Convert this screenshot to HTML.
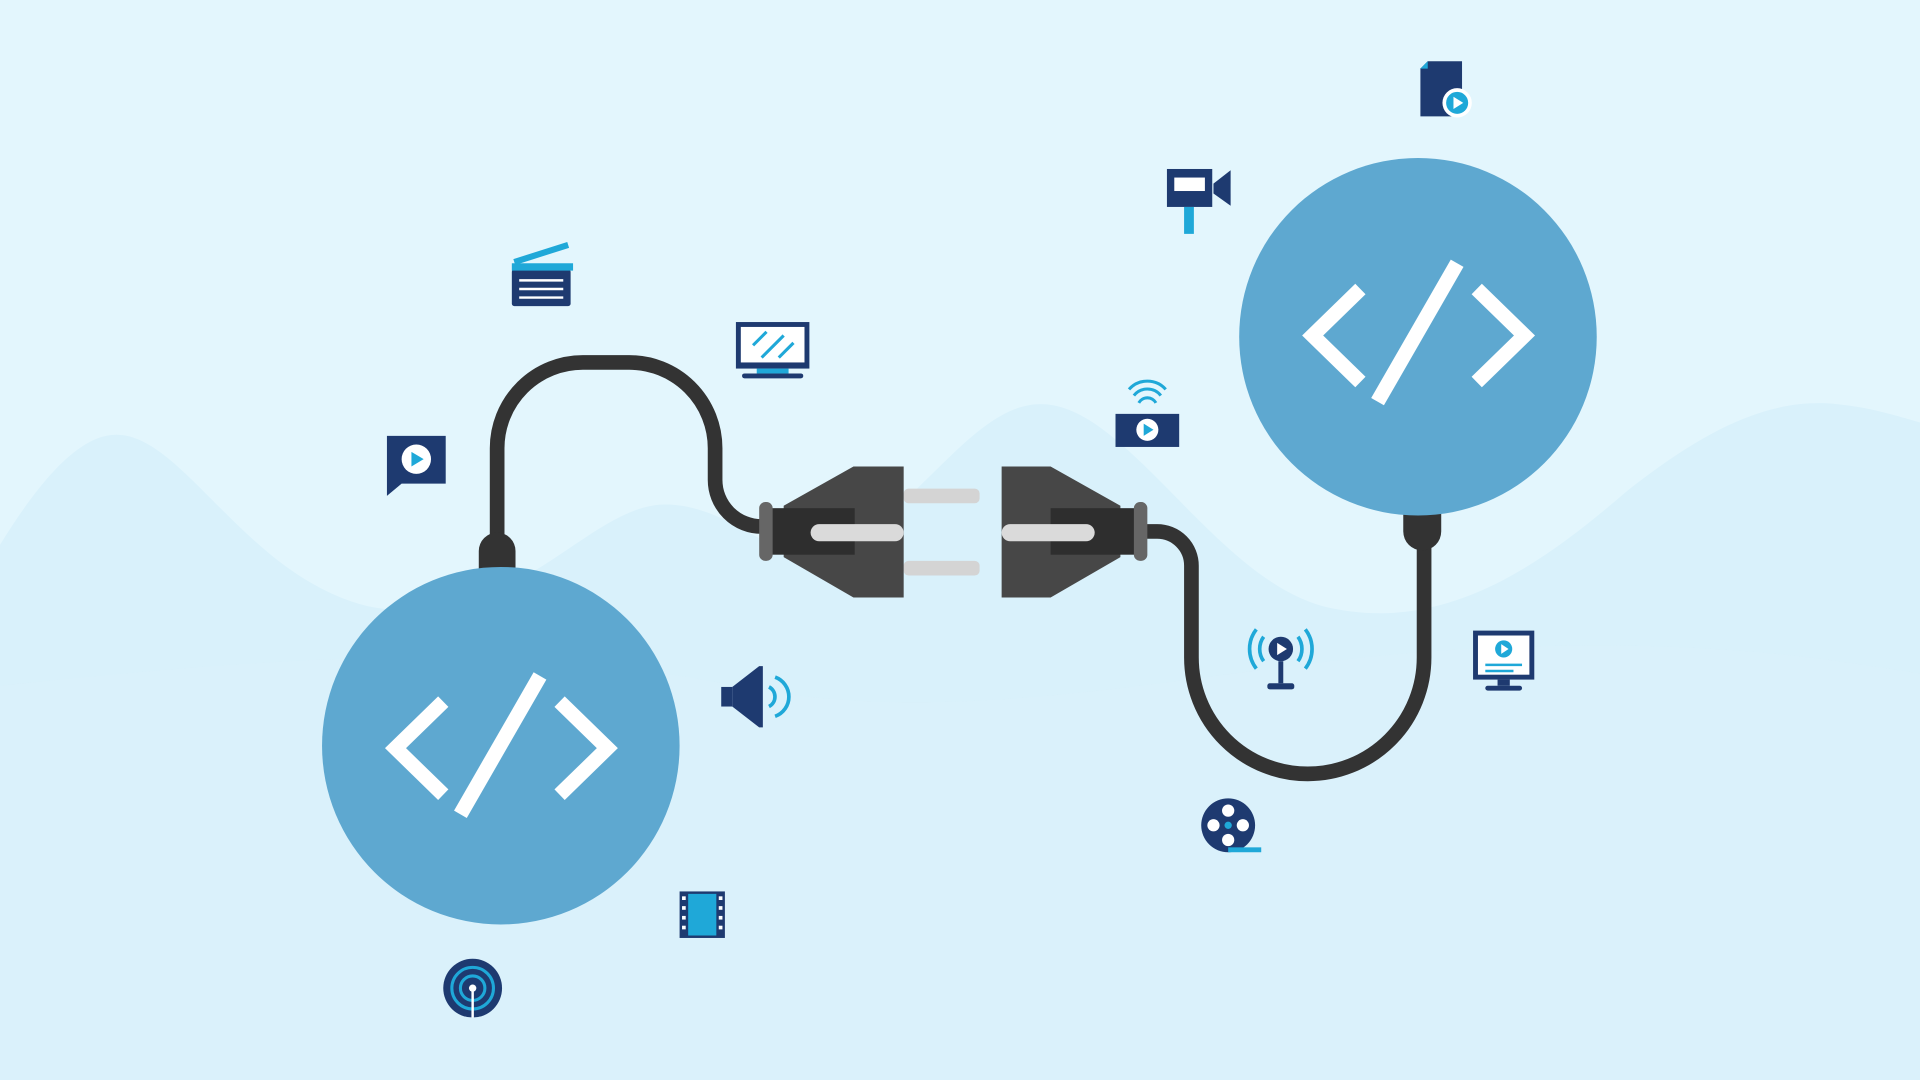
<!DOCTYPE html>
<html><head><meta charset="utf-8"><style>
html,body{margin:0;padding:0;width:1920px;height:1080px;overflow:hidden;background:#e3f6fd}
svg{display:block}
</style></head><body>
<svg width="1920" height="1080" viewBox="0 0 1568 882" xmlns="http://www.w3.org/2000/svg">
<rect width="1568" height="882" fill="#e3f6fd"/>
<path d="M0,445 C40,380 70,355 95,355 C150,355 200,470 300,495 C420,520 480,410 545,412 C610,414 640,480 700,440 C760,400 800,330 850,330 C920,330 990,470 1080,495 C1180,520 1260,460 1330,400 C1400,345 1450,325 1500,330 C1530,333 1550,340 1568,345 L1568,882 L0,882 Z" fill="#d9f1fb"/>
<path d="M0,560 C200,540 400,520 600,560 C800,600 1000,540 1200,530 C1400,520 1500,540 1568,550 L1568,882 L0,882 Z" fill="#dbf2fb" opacity="0.5"/>

<!-- cables -->
<path d="M406,450 L406,366 A70,70 0 0 1 476,296 L514,296 A70,70 0 0 1 584,366 L584,392 A38,38 0 0 0 622,430" fill="none" stroke="#333" stroke-width="12"/>
<path d="M930,434 L945,434 A28,28 0 0 1 973,462 L973,537 A95,95 0 0 0 1163,537 L1163,440" fill="none" stroke="#333" stroke-width="12"/>
<path d="M391,466 L391,450 A15,15 0 0 1 421,450 L421,466 Z" fill="#333"/>
<path d="M1146,418 L1177,418 L1177,434 A15,15 0 0 1 1146,434 Z" fill="#333"/>

<!-- circles -->
<circle cx="409" cy="609" r="146" fill="#5ea8d0"/>
<circle cx="1158" cy="275" r="146" fill="#5ea8d0"/>
<g fill="none" stroke="#fff" stroke-width="12" stroke-linecap="butt">
 <polyline points="362,573 323,611 362,649"/>
 <line x1="441" y1="552" x2="376" y2="665"/>
 <polyline points="457,573 496,611 457,649"/>
 <g transform="translate(749,-337)">
 <polyline points="362,573 323,611 362,649"/>
 <line x1="441" y1="552" x2="376" y2="665"/>
 <polyline points="457,573 496,611 457,649"/>
 </g>
</g>

<!-- left plug -->
<rect x="738" y="399" width="62" height="12" rx="4" fill="#d4d4d4"/>
<rect x="738" y="458" width="62" height="12" rx="4" fill="#d4d4d4"/>
<polygon points="640,413 697,381 738,381 738,488 697,488 640,455" fill="#474747"/>
<rect x="628" y="415" width="70" height="38" fill="#2e2e2e"/>
<rect x="620" y="410" width="11" height="48" rx="5" fill="#666"/>
<rect x="662" y="428" width="76" height="14" rx="7" fill="#dadada"/>
<!-- right plug -->
<polygon points="818,381 858,381 915,413 915,455 858,488 818,488" fill="#474747"/>
<rect x="858" y="415" width="70" height="38" fill="#2e2e2e"/>
<rect x="926" y="410" width="11" height="48" rx="5" fill="#666"/>
<rect x="818" y="428" width="76" height="14" rx="7" fill="#dadada"/>

<!-- icons -->
<g>
 <!-- clapperboard -->
 <rect x="418" y="220" width="48" height="30" rx="2" fill="#1e3a70"/>
 <rect x="418" y="215" width="50" height="6" fill="#1fa8d8"/>
 <line x1="420" y1="214" x2="464" y2="200" stroke="#1fa8d8" stroke-width="5"/>
 <g stroke="#fff" stroke-width="2"><line x1="424" y1="229" x2="460" y2="229"/><line x1="424" y1="236" x2="460" y2="236"/><line x1="424" y1="243" x2="460" y2="243"/></g>
 <!-- monitor top -->
 <rect x="601" y="263" width="60" height="38" fill="#1e3a70"/>
 <rect x="605" y="267" width="52" height="29" fill="#fff"/>
 <g stroke="#1fa8d8" stroke-width="2.5"><line x1="615" y1="282" x2="626" y2="271"/><line x1="622" y1="292" x2="640" y2="274"/><line x1="636" y1="292" x2="648" y2="280"/></g>
 <rect x="618" y="301" width="26" height="4" fill="#1fa8d8"/>
 <rect x="606" y="305" width="50" height="4" rx="2" fill="#1e3a70"/>
 <!-- play bubble -->
 <path d="M316,356 H364 V395 H328 L316,405 Z" fill="#1e3a70"/>
 <circle cx="340" cy="375" r="12" fill="#fff"/>
 <polygon points="336,369 336,381 346,375" fill="#1fa8d8"/>
 <!-- speaker -->
 <rect x="589" y="561" width="9" height="16" fill="#1e3a70"/>
 <polygon points="598,561 620,544 623,544 623,594 620,594 598,577" fill="#1e3a70"/>
 <path d="M628,561 A9,9 0 0 1 628,577" fill="none" stroke="#1fa8d8" stroke-width="3"/>
 <path d="M633,553 A17,17 0 0 1 633,585" fill="none" stroke="#1fa8d8" stroke-width="3"/>
 <!-- film strip -->
 <rect x="555" y="728" width="37" height="38" fill="#1e3a70"/>
 <rect x="562" y="730" width="23" height="34" fill="#1fa8d8"/>
 <g fill="#fff"><rect x="557" y="732" width="3" height="3"/><rect x="557" y="740" width="3" height="3"/><rect x="557" y="748" width="3" height="3"/><rect x="557" y="756" width="3" height="3"/><rect x="587" y="732" width="3" height="3"/><rect x="587" y="740" width="3" height="3"/><rect x="587" y="748" width="3" height="3"/><rect x="587" y="756" width="3" height="3"/></g>
 <!-- signal circle -->
 <circle cx="386" cy="807" r="24" fill="#1e3a70"/>
 <circle cx="386" cy="807" r="17" fill="none" stroke="#1fa8d8" stroke-width="2.5"/>
 <circle cx="386" cy="807" r="10" fill="none" stroke="#1fa8d8" stroke-width="2.5"/>
 <circle cx="386" cy="807" r="3" fill="#fff"/>
 <line x1="386" y1="807" x2="386" y2="831" stroke="#fff" stroke-width="2"/>
 <!-- doc play -->
 <polygon points="1166,50 1194,50 1194,95 1160,95 1160,56" fill="#1e3a70"/>
 <polygon points="1160,56 1166,50 1166,56" fill="#1fa8d8"/>
 <circle cx="1190" cy="84" r="12" fill="#fff"/>
 <circle cx="1190" cy="84" r="9" fill="#1fa8d8"/>
 <polygon points="1187,79 1187,89 1195,84" fill="#fff"/>
 <!-- camera -->
 <rect x="953" y="138" width="37" height="31" fill="#1e3a70"/>
 <rect x="959" y="145" width="25" height="11" fill="#fff"/>
 <polygon points="991,150 1005,139 1005,168 991,158" fill="#1e3a70"/>
 <rect x="967" y="169" width="8" height="22" fill="#1fa8d8"/>
 <!-- wifi play -->
 <rect x="911" y="338" width="52" height="27" fill="#1e3a70"/>
 <circle cx="937" cy="351" r="9" fill="#fff"/>
 <polygon points="934,346 934,356 942,351" fill="#1fa8d8"/>
 <g fill="none" stroke="#1fa8d8" stroke-width="2.5"><path d="M930,329 A8,8 0 0 1 944,329"/><path d="M926,323 A14,14 0 0 1 948,323"/><path d="M922,318 A20,20 0 0 1 952,318"/></g>
 <!-- broadcast -->
 <circle cx="1046" cy="530" r="10" fill="#1e3a70"/>
 <polygon points="1043,525 1043,535 1051,530" fill="#fff"/>
 <rect x="1044" y="540" width="4" height="18" fill="#1e3a70"/>
 <rect x="1035" y="558" width="22" height="5" rx="2" fill="#1e3a70"/>
 <g fill="none" stroke="#1fa8d8" stroke-width="3"><path d="M1032,520 A17,17 0 0 0 1032,540"/><path d="M1060,520 A17,17 0 0 1 1060,540"/><path d="M1026,514 A26,26 0 0 0 1026,546"/><path d="M1066,514 A26,26 0 0 1 1066,546"/></g>
 <!-- monitor right -->
 <rect x="1203" y="515" width="50" height="40" fill="#1e3a70"/>
 <rect x="1207" y="519" width="42" height="32" fill="#fff"/>
 <circle cx="1228" cy="530" r="7" fill="#1fa8d8"/>
 <polygon points="1226,526 1226,534 1232,530" fill="#fff"/>
 <g stroke="#1fa8d8" stroke-width="2"><line x1="1213" y1="543" x2="1243" y2="543"/><line x1="1213" y1="548" x2="1236" y2="548"/></g>
 <rect x="1223" y="555" width="10" height="5" fill="#1e3a70"/>
 <rect x="1213" y="560" width="30" height="4" rx="2" fill="#1e3a70"/>
 <!-- film reel -->
 <circle cx="1003" cy="674" r="22" fill="#1e3a70"/>
 <g fill="#fff"><circle cx="1003" cy="662" r="5"/><circle cx="1003" cy="686" r="5"/><circle cx="991" cy="674" r="5"/><circle cx="1015" cy="674" r="5"/></g>
 <circle cx="1003" cy="674" r="3" fill="#1fa8d8"/>
 <rect x="1003" y="692" width="27" height="4" fill="#1fa8d8"/>
</g>
</svg>
</body></html>
